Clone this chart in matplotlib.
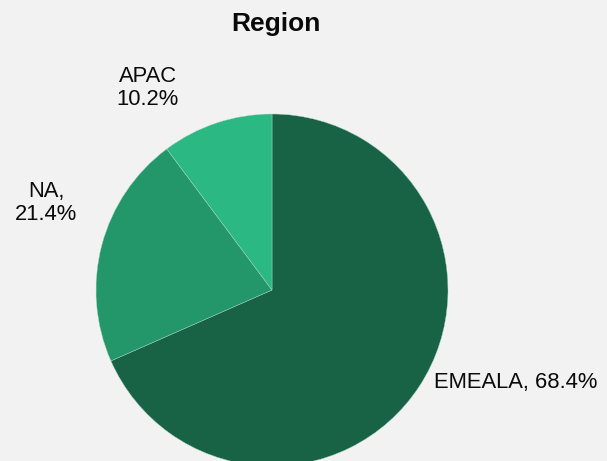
import matplotlib

matplotlib.use("Agg")
import matplotlib.pyplot as plt

regions = ["EMEALA", "NA", "APAC"]
shares = [68.4, 21.4, 10.2]
colors = ["#186245", "#23966a", "#2cb882"]

# label texts and where they sit (data units, pie radius = 1)
label_texts = ["EMEALA, 68.4%", "NA,\n21.4%", "APAC\n10.2%"]
label_pos = [(0.92, -0.528), (-1.284, 0.494), (-0.705, 1.148)]
label_ha = ["left", "center", "center"]

plt.rcParams["font.family"] = ["Liberation Sans", "DejaVu Sans"]

W, H = 607, 461
cx, cy, r = 272, 290, 176

fig = plt.figure(figsize=(W / 100, H / 100), dpi=100)
fig.patch.set_facecolor("#f2f2f2")
ax = fig.add_axes([0, 0, 1, 1])
ax.set_facecolor("#f2f2f2")

ax.pie(
    shares,
    colors=colors,
    startangle=90,
    counterclock=False,
    radius=1,
    wedgeprops={"edgecolor": "#a8d8c2", "linewidth": 0.3},
)
ax.set_aspect("auto")
ax.set_xlim(-cx / r, (W - cx) / r)
ax.set_ylim(-(H - cy) / r, cy / r)
ax.axis("off")

for txt, (x, y), ha in zip(label_texts, label_pos, label_ha):
    ax.text(x, y, txt, ha=ha, va="center", fontsize=15.8, color="#0a0a0a",
            linespacing=1.15)

fig.text(276 / W, 1 - 24 / H, "Region", ha="center", va="center",
         fontsize=19, fontweight="bold", color="#0a0a0a")

fig.savefig("out.png", dpi=100, facecolor=fig.get_facecolor())
